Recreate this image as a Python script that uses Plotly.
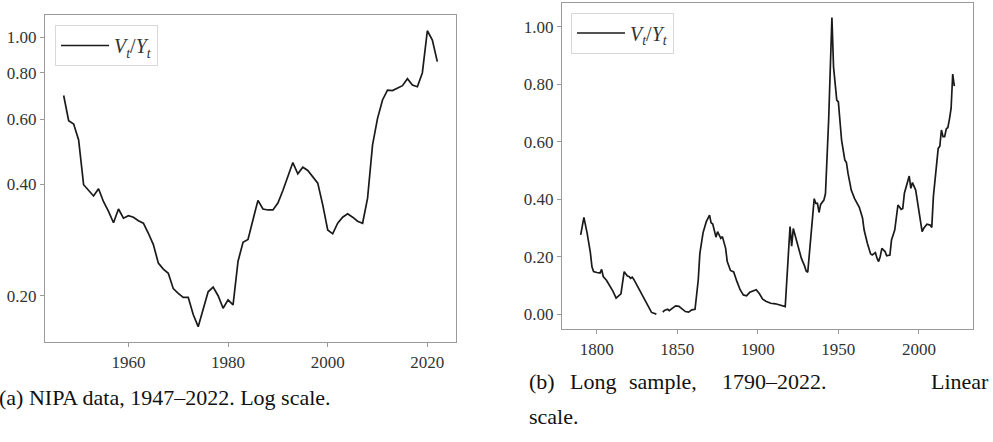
import plotly.graph_objects as go

# ---------------- data ----------------
left_years = list(range(1947, 2023))
left_values = [0.695, 0.594, 0.582, 0.527, 0.399, 0.386, 0.372, 0.389, 0.359, 0.338,
               0.315, 0.343, 0.324, 0.329, 0.326, 0.319, 0.314, 0.295, 0.275, 0.245,
               0.236, 0.230, 0.209, 0.203, 0.198, 0.198, 0.178, 0.165, 0.183, 0.205,
               0.211, 0.200, 0.185, 0.195, 0.189, 0.248, 0.279, 0.284, 0.321, 0.362,
               0.343, 0.341, 0.341, 0.356, 0.385, 0.421, 0.458, 0.427, 0.445, 0.436,
               0.420, 0.403, 0.352, 0.301, 0.294, 0.314, 0.326, 0.333, 0.326, 0.318,
               0.314, 0.367, 0.511, 0.603, 0.676, 0.719, 0.717, 0.727, 0.739, 0.772,
               0.742, 0.734, 0.801, 1.040, 0.981, 0.858]

right_years = [1790, 1792, 1794, 1796, 1797, 1798, 1800, 1802, 1803, 1804, 1806, 1808,
               1810, 1812, 1813, 1815, 1817, 1819, 1820, 1821, 1822, 1823, 1826, 1828,
               1829, 1831, 1833, 1834, 1837,
               1839,
               1841, 1842, 1844, 1845, 1847, 1849, 1851, 1853, 1855, 1857, 1859, 1861,
               1863, 1864, 1866, 1868, 1870, 1871, 1872, 1874, 1875, 1877, 1878, 1880,
               1881, 1883, 1885, 1887, 1889, 1891, 1893, 1895, 1897, 1899, 1901, 1903,
               1905, 1908, 1911, 1914, 1917, 1920, 1921, 1922, 1924, 1925, 1926, 1927,
               1929, 1930, 1931, 1932, 1935, 1936, 1937, 1938, 1939, 1941, 1942, 1944,
               1946, 1947, 1949, 1950, 1952, 1954, 1955, 1956, 1958, 1960, 1962, 1963,
               1965, 1966, 1968, 1969, 1970, 1971, 1973, 1974, 1975, 1976, 1977, 1979,
               1980, 1982, 1983, 1985, 1987, 1989, 1990, 1991, 1993, 1994, 1995, 1996,
               1998, 1999, 2001, 2002, 2003, 2005, 2007, 2008, 2009, 2011, 2012, 2013,
               2014, 2015, 2016, 2017, 2018, 2019, 2020, 2021, 2022]
right_values = [0.276, 0.337, 0.282, 0.215, 0.165, 0.148, 0.145, 0.143, 0.156, 0.131, 0.118, 0.100,
                0.080, 0.056, 0.062, 0.071, 0.148, 0.133, 0.131, 0.125, 0.129, 0.121, 0.090, 0.070,
                0.056, 0.035, 0.015, 0.006, 0.000,
                None,
                0.007, 0.013, 0.017, 0.012, 0.021, 0.029, 0.027, 0.017, 0.009, 0.007, 0.015, 0.017,
                0.119, 0.212, 0.284, 0.322, 0.345, 0.318, 0.314, 0.268, 0.287, 0.264, 0.270, 0.229,
                0.183, 0.152, 0.147, 0.114, 0.085, 0.067, 0.064, 0.076, 0.082, 0.085, 0.071, 0.052,
                0.045, 0.038, 0.036, 0.032, 0.026, 0.305, 0.237, 0.298, 0.255, 0.235, 0.222, 0.195,
                0.168, 0.150, 0.146, 0.212, 0.402, 0.386, 0.386, 0.354, 0.382, 0.397, 0.420, 0.680,
                1.033, 0.861, 0.745, 0.739, 0.606, 0.537, 0.528, 0.490, 0.432, 0.403, 0.380, 0.372,
                0.335, 0.293, 0.247, 0.225, 0.210, 0.206, 0.214, 0.195, 0.183, 0.201, 0.229, 0.218,
                0.203, 0.206, 0.258, 0.293, 0.380, 0.365, 0.368, 0.421, 0.467, 0.481, 0.438, 0.458,
                0.432, 0.398, 0.328, 0.287, 0.299, 0.313, 0.310, 0.302, 0.409, 0.537, 0.577, 0.585,
                0.641, 0.618, 0.618, 0.645, 0.650, 0.680, 0.716, 0.836, 0.794]

left_yticks = [0.2, 0.4, 0.6, 0.8, 1.0]
left_yticklabels = ["0.20", "0.40", "0.60", "0.80", "1.00"]
left_xticks = [1960, 1980, 2000, 2020]
right_yticks = [0.0, 0.2, 0.4, 0.6, 0.8, 1.0]
right_yticklabels = ["0.00", "0.20", "0.40", "0.60", "0.80", "1.00"]
right_xticks = [1800, 1850, 1900, 1950, 2000]

series_name = "<i>V</i><sub><i>t</i></sub>/<i>Y</i><sub><i>t</i></sub>"
caption_a = "(a) NIPA data, 1947–2022. Log scale."
caption_b_words = ["(b)", "Long", "sample,", "1790–2022.", "Linear"]
caption_b_line2 = "scale."

# ---------------- layout helpers ----------------
W, H = 993, 442
FONT = "Liberation Serif, Times New Roman, serif"
FRAME = "#9a9a9a"
TXT = "#333333"
LINE = "#1a1a1a"


def xdom(l, r):
    return [l / W, r / W]


def ydom(t, b):
    return [1 - b / H, 1 - t / H]


fig = go.Figure()
fig.add_trace(go.Scatter(x=left_years, y=left_values, mode="lines", name=series_name,
                         line=dict(color=LINE, width=1.7), xaxis="x", yaxis="y",
                         legend="legend", showlegend=True))
fig.add_trace(go.Scatter(x=right_years, y=right_values, mode="lines", name=series_name,
                         line=dict(color=LINE, width=1.7), xaxis="x2", yaxis="y2",
                         connectgaps=False, legend="legend2", showlegend=True))

axis_common = dict(showline=True, mirror=True, linecolor=FRAME, linewidth=1.2,
                   showgrid=False, zeroline=False, ticks="outside", ticklen=4,
                   tickcolor=FRAME, tickwidth=1,
                   tickfont=dict(family=FONT, size=17, color=TXT))

legend_common = dict(xanchor="left", yanchor="top", bgcolor="white",
                     bordercolor="#d8d8d8", borderwidth=1, itemwidth=48,
                     font=dict(family=FONT, size=20, color=TXT))

fig.update_layout(
    width=W, height=H,
    margin=dict(l=0, r=0, t=0, b=0),
    paper_bgcolor="white", plot_bgcolor="white",
    xaxis=dict(domain=xdom(45, 456), range=[1943.25, 2025.75], tickvals=left_xticks,
               anchor="y", **axis_common),
    yaxis=dict(domain=ydom(15, 342), type="log", range=[-0.824, 0.0596],
               tickvals=left_yticks, ticktext=left_yticklabels, anchor="x", **axis_common),
    xaxis2=dict(domain=xdom(562, 973), range=[1778.4, 2033.6], tickvals=right_xticks,
                anchor="y2", **axis_common),
    yaxis2=dict(domain=ydom(2.5, 329), range=[-0.0517, 1.085], tickvals=right_yticks,
                ticktext=right_yticklabels, anchor="x2", **axis_common),
    legend=dict(x=55 / W, y=1 - 25 / H, **legend_common),
    legend2=dict(x=571 / W, y=1 - 12.5 / H, **legend_common),
)

cap_font = dict(family=FONT, size=22, color="#111111")
annotations = [dict(text=caption_a, x=-3 / W, y=1 - 397 / H, xref="paper", yref="paper",
                    xanchor="left", yanchor="middle", showarrow=False, font=cap_font)]
b_pos = [527, 568, 627, 720]
for word, px in zip(caption_b_words[:4], b_pos):
    annotations.append(dict(text=word, x=px / W, y=1 - 381 / H, xref="paper", yref="paper",
                            xanchor="left", yanchor="middle", showarrow=False, font=cap_font))
annotations.append(dict(text=caption_b_words[4], x=991 / W, y=1 - 381 / H, xref="paper",
                        yref="paper", xanchor="right", yanchor="middle", showarrow=False,
                        font=cap_font))
annotations.append(dict(text=caption_b_line2, x=527 / W, y=1 - 416 / H, xref="paper",
                        yref="paper", xanchor="left", yanchor="middle", showarrow=False,
                        font=cap_font))
fig.update_layout(annotations=annotations)

fig.write_html("out.html")
